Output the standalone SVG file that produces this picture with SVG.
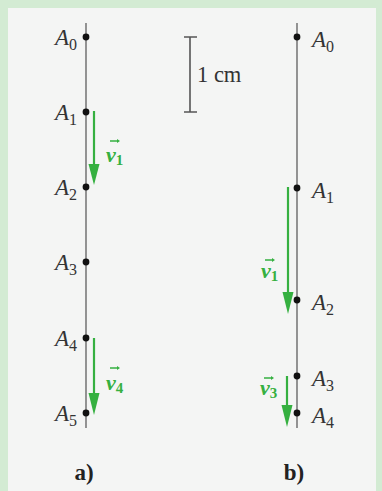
<svg xmlns="http://www.w3.org/2000/svg" width="382" height="491" viewBox="0 0 382 491">
<defs>
<style>
.axis{stroke:#7a7a7a;stroke-width:1.6;fill:none}
.dot{fill:#111}
.lbl{font-family:"Liberation Serif",serif;font-style:italic;font-size:23px;fill:#333}
.sub{font-size:16px;font-style:normal}
.vec{stroke:#35b040;stroke-width:2.2;fill:none}
.head{fill:#35b040}
.vl{font-family:"Liberation Serif",serif;font-style:italic;font-weight:bold;font-size:22px;fill:#35b040}
.vs{font-size:15px;font-style:normal}
.cap{font-family:"Liberation Serif",serif;font-weight:bold;font-size:23px;fill:#222}
.scale{stroke:#555;stroke-width:1.6;fill:none}
</style>
</defs>
<rect x="0" y="0" width="382" height="491" fill="#d3ebd3"/>
<rect x="8" y="8" width="368" height="483" fill="#f4f5f4"/>
<g id="scale">
<path class="scale" d="M190 37V112M184 37H197M184 112H197"/>
<text x="197" y="82" font-family="Liberation Serif,serif" font-size="22.5" fill="#333">1 cm</text>
</g>
<g id="connectors">
<line class="axis" x1="86" y1="23" x2="86" y2="428"/>
<line class="axis" x1="297" y1="23" x2="297" y2="428"/>
<line class="vec" x1="94" y1="111" x2="94" y2="168"/>
<path class="head" d="M88.5 164L99.5 164L94 185Z"/>
<line class="vec" x1="94" y1="338" x2="94" y2="396"/>
<path class="head" d="M88.5 393L99.5 393L94 415Z"/>
<line class="vec" x1="288" y1="187" x2="288" y2="296"/>
<path class="head" d="M282.5 292L293.5 292L288 314Z"/>
<line class="vec" x1="287" y1="376" x2="287" y2="410"/>
<path class="head" d="M281.5 405L292.5 405L287 427Z"/>
</g>
<g id="a0"><circle class="dot" cx="86" cy="37" r="3.4"/><text class="lbl" x="77" y="45" text-anchor="end">A<tspan class="sub" dy="5">0</tspan></text></g>
<g id="a1"><circle class="dot" cx="86" cy="112" r="3.4"/><text class="lbl" x="77" y="120" text-anchor="end">A<tspan class="sub" dy="5">1</tspan></text></g>
<g id="a2"><circle class="dot" cx="86" cy="187" r="3.4"/><text class="lbl" x="77" y="195" text-anchor="end">A<tspan class="sub" dy="5">2</tspan></text></g>
<g id="a3"><circle class="dot" cx="86" cy="262" r="3.4"/><text class="lbl" x="77" y="270" text-anchor="end">A<tspan class="sub" dy="5">3</tspan></text></g>
<g id="a4"><circle class="dot" cx="86" cy="338" r="3.4"/><text class="lbl" x="77" y="346" text-anchor="end">A<tspan class="sub" dy="5">4</tspan></text></g>
<g id="a5"><circle class="dot" cx="86" cy="413" r="3.4"/><text class="lbl" x="77" y="421" text-anchor="end">A<tspan class="sub" dy="5">5</tspan></text></g>
<g id="b0"><circle class="dot" cx="297" cy="37" r="3.4"/><text class="lbl" x="312" y="47">A<tspan class="sub" dy="5">0</tspan></text></g>
<g id="b1"><circle class="dot" cx="297" cy="188" r="3.4"/><text class="lbl" x="312" y="198">A<tspan class="sub" dy="5">1</tspan></text></g>
<g id="b2"><circle class="dot" cx="297" cy="300" r="3.4"/><text class="lbl" x="312" y="310">A<tspan class="sub" dy="5">2</tspan></text></g>
<g id="b3"><circle class="dot" cx="297" cy="376" r="3.4"/><text class="lbl" x="312" y="386">A<tspan class="sub" dy="5">3</tspan></text></g>
<g id="b4"><circle class="dot" cx="297" cy="413" r="3.4"/><text class="lbl" x="312" y="423">A<tspan class="sub" dy="5">4</tspan></text></g>
<g id="v1a"><path class="head" d="M110 140.2H117V139L120 141L117 143V141.8H110Z"/><text class="vl" x="106" y="162">v<tspan class="vs" dy="3">1</tspan></text></g>
<g id="v4a"><path class="head" d="M110 367.2H117V366L120 368L117 370V368.8H110Z"/><text class="vl" x="106" y="390">v<tspan class="vs" dy="3">4</tspan></text></g>
<g id="v1b"><path class="head" d="M265 259.2H272V258L275 260L272 262V260.8H265Z"/><text class="vl" x="261" y="278">v<tspan class="vs" dy="3">1</tspan></text></g>
<g id="v3b"><path class="head" d="M264 377.2H271V376L274 378L271 380V378.8H264Z"/><text class="vl" x="260" y="395">v<tspan class="vs" dy="3">3</tspan></text></g>
<g id="capa"><text class="cap" x="84" y="480" text-anchor="middle">a)</text></g>
<g id="capb"><text class="cap" x="294" y="480" text-anchor="middle">b)</text></g>
</svg>
